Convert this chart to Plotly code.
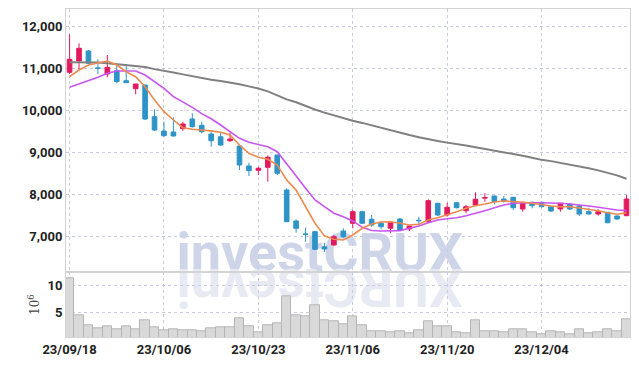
import plotly.graph_objects as go

dates = ["23/09/18", "23/09/19", "23/09/20", "23/09/21", "23/09/22", "23/09/25", "23/09/26", "23/09/27",
         "23/10/04", "23/10/05", "23/10/06", "23/10/10", "23/10/11", "23/10/12", "23/10/13",
         "23/10/16", "23/10/17", "23/10/18", "23/10/19", "23/10/20",
         "23/10/23", "23/10/24", "23/10/25", "23/10/26", "23/10/27", "23/10/30", "23/10/31",
         "23/11/01", "23/11/02", "23/11/03", "23/11/06", "23/11/07", "23/11/08", "23/11/09", "23/11/10",
         "23/11/13", "23/11/14", "23/11/15", "23/11/16", "23/11/17",
         "23/11/20", "23/11/21", "23/11/22", "23/11/23", "23/11/24",
         "23/11/27", "23/11/28", "23/11/29", "23/11/30", "23/12/01",
         "23/12/04", "23/12/05", "23/12/06", "23/12/07", "23/12/08",
         "23/12/11", "23/12/12", "23/12/13", "23/12/14", "23/12/15"]

opens = [10905, 11174, 11412, 11010, 10864, 10943, 10705, 10514, 10602, 9848,
         9507, 9483, 9562, 9793, 9643, 9436, 9371, 9276, 9150, 8674,
         8571, 8643, 8936, 8102, 7364, 7055, 7110, 6752, 6793, 7126,
         7310, 7586, 7405, 7310, 7190, 7412, 7174, 7380, 7348, 7786,
         7507, 7800, 7610, 7745, 7910, 7960, 7888, 7929, 7650, 7810,
         7810, 7705, 7650, 7769, 7721, 7586, 7531, 7571, 7483, 7490]
highs = [11810, 11595, 11436, 11214, 11317, 11079, 11103, 10630, 10610, 10024,
         9729, 9833, 9729, 9929, 9729, 9531, 9467, 9467, 9155, 8752,
         8657, 8929, 8940, 8143, 7405, 7205, 7126, 6848, 7031, 7190,
         7626, 7610, 7507, 7364, 7348, 7436, 7257, 7467, 7881, 7793,
         7800, 7817, 7745, 8048, 8024, 7971, 7960, 7936, 7817, 7829,
         7817, 7721, 7793, 7781, 7733, 7681, 7643, 7579, 7495, 7983]
lows = [10864, 10960, 11100, 10864, 10786, 10643, 10650, 10381, 9769, 9507,
        9371, 9380, 9514, 9590, 9452, 9133, 9150, 9250, 8579, 8436,
        8460, 8300, 8460, 7340, 7086, 6871, 6674, 6626, 6780, 6960,
        7190, 7293, 7229, 7167, 7071, 7126, 7126, 7269, 7310, 7483,
        7467, 7662, 7548, 7721, 7824, 7762, 7800, 7626, 7586, 7667,
        7686, 7579, 7586, 7626, 7483, 7519, 7490, 7310, 7388, 7483]
closes = [11214, 11476, 11119, 11000, 11024, 10681, 10657, 10626, 9793, 9531,
          9395, 9388, 9674, 9610, 9490, 9276, 9174, 9317, 8698, 8562,
          8619, 8881, 8500, 7348, 7190, 7048, 6690, 6698, 6990, 6990,
          7586, 7310, 7269, 7229, 7324, 7150, 7245, 7371, 7848, 7507,
          7690, 7681, 7705, 7881, 7919, 7824, 7840, 7681, 7810, 7729,
          7705, 7602, 7786, 7650, 7531, 7531, 7586, 7324, 7412, 7888]

ma5 = [10800, 10960, 11079, 11133, 11174, 11079, 10919, 10800, 10562, 10245,
       9967, 9769, 9586, 9548, 9531, 9510, 9476, 9412, 9174, 8976,
       8881, 8833, 8698, 8340, 8100, 7710, 7310, 7010, 6930, 6912,
       7031, 7190, 7293, 7340, 7348, 7309, 7270, 7286, 7388, 7443,
       7507, 7586, 7667, 7729, 7769, 7817, 7840, 7833, 7810, 7786,
       7752, 7721, 7705, 7705, 7674, 7643, 7610, 7562, 7524, 7562]
ma20 = [10548, 10626, 10705, 10786, 10881, 10936, 10936, 10936, 10840, 10681,
        10524, 10324, 10205, 10071, 9920, 9798, 9650, 9490, 9333, 9238,
        9190, 9133, 9014, 8738, 8436, 8143, 7864, 7705, 7550, 7467,
        7365, 7214, 7136, 7126, 7126, 7136, 7190, 7245, 7324, 7388,
        7419, 7443, 7490, 7545, 7610, 7681, 7745, 7786, 7800, 7800,
        7800, 7800, 7786, 7769, 7752, 7721, 7690, 7657, 7626, 7610]
ma60 = [11145, 11145, 11145, 11140, 11120, 11100, 11085, 11060, 11030, 10980,
        10945, 10900, 10855, 10810, 10760, 10730, 10700, 10665, 10620, 10570,
        10520, 10450, 10360, 10260, 10190, 10100, 10020, 9945, 9880, 9800,
        9750, 9700, 9640, 9580, 9530, 9470, 9410, 9360, 9310, 9270,
        9230, 9200, 9160, 9120, 9080, 9050, 9010, 8960, 8920, 8870,
        8820, 8790, 8750, 8710, 8670, 8620, 8570, 8510, 8450, 8370]

volume_m = [11.3, 4.57, 2.68, 2.13, 2.5, 2.0, 2.5, 2.0, 3.6, 2.3,
            1.77, 2.0, 1.77, 1.77, 1.58, 2.13, 2.3, 2.3, 3.96, 2.56,
            1.4, 2.68, 3.05, 8.04, 4.57, 4.33, 6.34, 3.66, 3.47, 2.87,
            4.39, 2.68, 1.65, 1.65, 1.34, 1.65, 1.28, 1.77, 3.41, 2.5,
            2.5, 1.46, 1.22, 3.6, 1.65, 1.58, 1.34, 1.95, 1.95, 1.46,
            1.1, 1.58, 1.34, 1.1, 1.95, 1.28, 1.46, 1.89, 1.65, 3.78]

tick_labels = ["23/09/18", "23/10/06", "23/10/23", "23/11/06", "23/11/20", "23/12/04"]
price_ticks = [7000, 8000, 9000, 10000, 11000, 12000]
volume_ticks = [5, 10]

RED = "#e3195e"
BLUE = "#2e94c8"
FONT = "Roboto, sans-serif"
GRID = "#c9cbe0"
AXLINE = "#d3d3d3"
TICKFONT = dict(family=FONT, size=13, color="#222222", weight="bold")

fig = go.Figure()

fig.add_trace(go.Candlestick(
    x=dates, open=opens, high=highs, low=lows, close=closes,
    increasing=dict(line=dict(color=RED, width=1), fillcolor=RED),
    decreasing=dict(line=dict(color=BLUE, width=1), fillcolor=BLUE),
    whiskerwidth=0, xaxis="x", yaxis="y", showlegend=False, hoverinfo="skip"))

fig.add_trace(go.Scatter(x=dates, y=ma60, mode="lines",
                         line=dict(color="#808080", width=2), xaxis="x", yaxis="y",
                         showlegend=False, hoverinfo="skip"))
fig.add_trace(go.Scatter(x=dates, y=ma20, mode="lines",
                         line=dict(color="#c855ee", width=1.6), xaxis="x", yaxis="y",
                         showlegend=False, hoverinfo="skip"))
fig.add_trace(go.Scatter(x=dates, y=ma5, mode="lines",
                         line=dict(color="#ef8a4e", width=1.6), xaxis="x", yaxis="y",
                         showlegend=False, hoverinfo="skip"))

fig.add_trace(go.Bar(x=dates, y=volume_m, marker=dict(color="#d9d9d9", line=dict(color="#b5b5b5", width=1)),
                     xaxis="x2", yaxis="y2", showlegend=False, hoverinfo="skip"))

split = 0.1973
xcommon = dict(type="category", range=[-0.38, 59.37], showgrid=True, gridcolor=GRID,
               griddash="dot", gridwidth=1, tickvals=tick_labels, ticktext=tick_labels,
               showline=True, linecolor=AXLINE, mirror=True, ticks="", zeroline=False,
               automargin=False, rangeslider=dict(visible=False))

fig.update_layout(
    width=631, height=358,
    margin=dict(l=58, r=9, t=1, b=29),
    paper_bgcolor="white", plot_bgcolor="white",
    bargap=0,
    xaxis=dict(xcommon, anchor="y", showticklabels=False, matches="x2"),
    xaxis2=dict(xcommon, anchor="y2", tickfont=TICKFONT),
    yaxis=dict(domain=[split, 1], range=[6143, 12412], tickvals=price_ticks, tickformat=",",
               showgrid=True, gridcolor=GRID, griddash="dot", showline=True, linecolor=AXLINE,
               mirror=True, ticks="", zeroline=False, automargin=False, tickfont=TICKFONT),
    yaxis2=dict(domain=[0, split], range=[0.57, 12.37], tickvals=volume_ticks,
                showgrid=True, gridcolor=GRID, griddash="dot", showline=True, linecolor=AXLINE,
                mirror=True, ticks="", zeroline=False, automargin=False, tickfont=TICKFONT,
                title=dict(text="10<sup>6</sup>", standoff=5,
                           font=dict(family="DejaVu Serif, serif", size=12, color="#444444"))),
    shapes=[
        dict(type="rect", xref="paper", yref="paper", x0=0.2, x1=0.7, y0=0.18, y1=0.36,
             line=dict(width=0), fillcolor="rgba(0,0,0,0)", layer="below",
             label=dict(text="investCRUX", textposition="middle center",
                        font=dict(family=FONT, size=54, color="#cfd5e9", weight="bold"))),
        dict(type="rect", xref="paper", yref="paper", x0=0.2, x1=0.7, y0=0.05, y1=0.23,
             line=dict(width=0), fillcolor="rgba(0,0,0,0)", layer="below",
             label=dict(text="XURCtsevni", textposition="middle center", textangle=180,
                        font=dict(family=FONT, size=54, color="#e8eaf3", weight="bold"))),
    ],
)

fig.write_html("out.html")
